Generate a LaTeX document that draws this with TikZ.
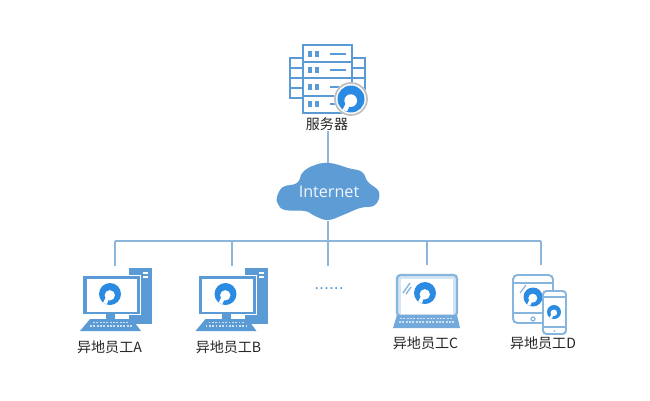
\documentclass[tikz,border=0pt]{standalone}
\usepackage{fontspec}
\setmainfont{Noto Sans CJK SC}
\newfontfamily\latinfont{Open Sans}
\newfontfamily\dotfont{Liberation Sans}
\definecolor{linec}{HTML}{8DB6DC}
\definecolor{iconb}{HTML}{5B9BD5}
\definecolor{iconl}{HTML}{86B5DE}
\definecolor{logob}{HTML}{2B8AE2}
\definecolor{cloudb}{HTML}{5E9CD6}
\definecolor{keyc}{HTML}{CFE2F3}
\tikzset{
  wire/.style={draw=linec,line width=1.1pt},
  lbl/.style={font=\fontsize{8}{9}\selectfont,text=black!85,inner sep=0pt},
  rack/.style={draw=iconb,line width=1.5pt,fill=white},
  bar/.style={draw=iconb,line width=1.4pt},
  outline/.style={draw=iconl,line width=1.1pt,fill=white,rounded corners=1pt},
}
\newcommand{\brandlogo}[3]{%
  \begin{scope}[shift={(#1,#2)},scale=#3]
    \fill[logob] (0,0) circle (1);
    \fill[white] (-0.02,0.12) circle (0.47);
    \fill[white] (-0.38,0.3) -- (-0.62,0.78) -- (-0.3,0.93) -- (-0.12,0.55) -- cycle;
  \end{scope}}
\newcommand{\desktopicon}[1]{%
  \begin{scope}[shift={(#1,0)}]
    \fill[iconb] (129,268) rectangle (152,324);
    \fill[white] (143,272) rectangle (148,274);
    \fill[white] (143,276) rectangle (148,278);
    \fill[white] (82,275) rectangle (141,315);
    \fill[iconb] (83,276) rectangle (140,314);
    \fill[white] (86.5,279) rectangle (137,312);
    \fill[iconb] (106,314) rectangle (115,319);
    \fill[iconb] (90,319) -- (132,319) -- (141,331) -- (80,331) -- cycle;
    \draw[keyc,line width=1pt,dash pattern=on 1.1pt off 0.8pt] (93,322.5) -- (129,322.5);
    \draw[keyc,line width=1pt,dash pattern=on 1.1pt off 0.8pt] (90,326) -- (132,326);
    \brandlogo{110}{294}{11}
  \end{scope}}
\begin{document}
\begin{tikzpicture}[x=0.02cm,y=-0.02cm]
\useasboundingbox (0,0) rectangle (650,400);
\fill[white] (0,0) rectangle (650,400);

% server icon
\draw[rack] (290,58) rectangle (303,98);
\foreach \yy in {68,78,88} \draw[bar] (290,\yy) -- (303,\yy);
\draw[rack] (352,58) rectangle (365,98);
\foreach \yy in {68,78,88} \draw[bar] (352,\yy) -- (365,\yy);
\draw[rack,line width=1.7pt] (303,45) rectangle (352,113);
\foreach \yy in {62,78,96} \draw[bar] (303,\yy) -- (352,\yy);
\foreach \yy in {54,70,87,104} {
  \draw[bar,line width=1.9pt] (310,\yy-3) -- (310,\yy+3);
  \draw[bar,line width=1.9pt] (317,\yy-3) -- (317,\yy+3);
  \draw[bar,line width=1.5pt] (330,\yy) -- (346,\yy);
}
\fill[white] (351,99) circle (17);
\draw[black!25,line width=1pt] (351,99) circle (16);
\brandlogo{351}{99}{13.5}
\node[lbl] (srv) at (327,124) {服务器};

% cloud
\fill[cloudb] plot[smooth cycle,tension=0.7] coordinates {
  (277,197) (283,187) (297,183) (303,172) (315,165) (330,163) (348,168) (362,172)
  (368,182) (379,192) (375,205) (360,208) (343,215) (328,220) (315,216) (305,211)
  (285,210) (278,204)};
\node[minimum width=102*0.02cm,minimum height=57*0.02cm,inner sep=0pt,text=white!92!cloudb,
      font=\latinfont\fontsize{9.2}{11}\selectfont] (cloud) at (329,192) {Internet};

% clients
\desktopicon{0}
\desktopicon{115.5}

% laptop
\draw[outline,fill=iconl!35,line width=1.3pt,rounded corners=2pt] (397,275) rectangle (457,316);
\fill[white] (401,279) rectangle (453,314);
\draw[iconl,line width=0.8pt] (403,293) -- (410,283);
\draw[iconl,line width=0.8pt] (406,294) -- (411,287);
\fill[iconb!85] (397,315) -- (457,315) -- (460,328) -- (393,328) -- cycle;
\draw[keyc,line width=1pt,dash pattern=on 1.1pt off 0.8pt] (400,318.5) -- (453,318.5);
\draw[keyc,line width=1pt,dash pattern=on 1.1pt off 0.8pt] (399,322) -- (454,322);
\brandlogo{425}{293}{11}

% tablet and phone
\draw[outline,rounded corners=2.5pt] (513,275) rectangle (553,323);
\draw[iconl,line width=0.8pt] (513,283) -- (553,283);
\draw[iconl,line width=0.8pt] (513,313) -- (553,313);
\draw[iconl,line width=0.7pt] (533,319) circle (2);
\draw[iconl,line width=0.7pt] (520,293) -- (526,285);
\brandlogo{533}{297}{9.5}
\draw[outline,rounded corners=2pt] (543,291) rectangle (566,334);
\draw[iconl,line width=0.8pt] (543,297) -- (566,297);
\draw[iconl,line width=0.8pt] (543,327) -- (566,327);
\fill[iconl] (554.5,331) circle (0.8);
\brandlogo{554}{312}{7}

% anchors of the client drops
\coordinate (ca) at (115,266);
\coordinate (cb) at (232,266);
\coordinate (cm) at (328,266);
\coordinate (cc) at (427,265);
\coordinate (cd) at (541,265);
\coordinate (busl) at (115,241);
\coordinate (busr) at (541,241);
\coordinate (busm) at (328,241);

\draw[wire] (srv.south -| busm) -- (cloud.north -| busm);
\draw[wire] (cloud.south -| busm) -- (busm);
\draw[wire] (busl) -- (busr);
\foreach \c in {ca,cb,cm,cc,cd} \draw[wire] (\c |- busl) -- (\c);

% labels
\node[lbl] (la) at (109.5,347) {异地员工A};
\node[lbl] (lb) at (228.5,347) {异地员工B};
\node[lbl] (lc) at (425.5,343.5) {异地员工C};
\node[lbl] (ld) at (543,343) {异地员工D};
\node[font=\dotfont\fontsize{10}{10}\selectfont,text=iconb,inner sep=0pt,anchor=base] (dots) at (329,289) {......};
\end{tikzpicture}
\end{document}
